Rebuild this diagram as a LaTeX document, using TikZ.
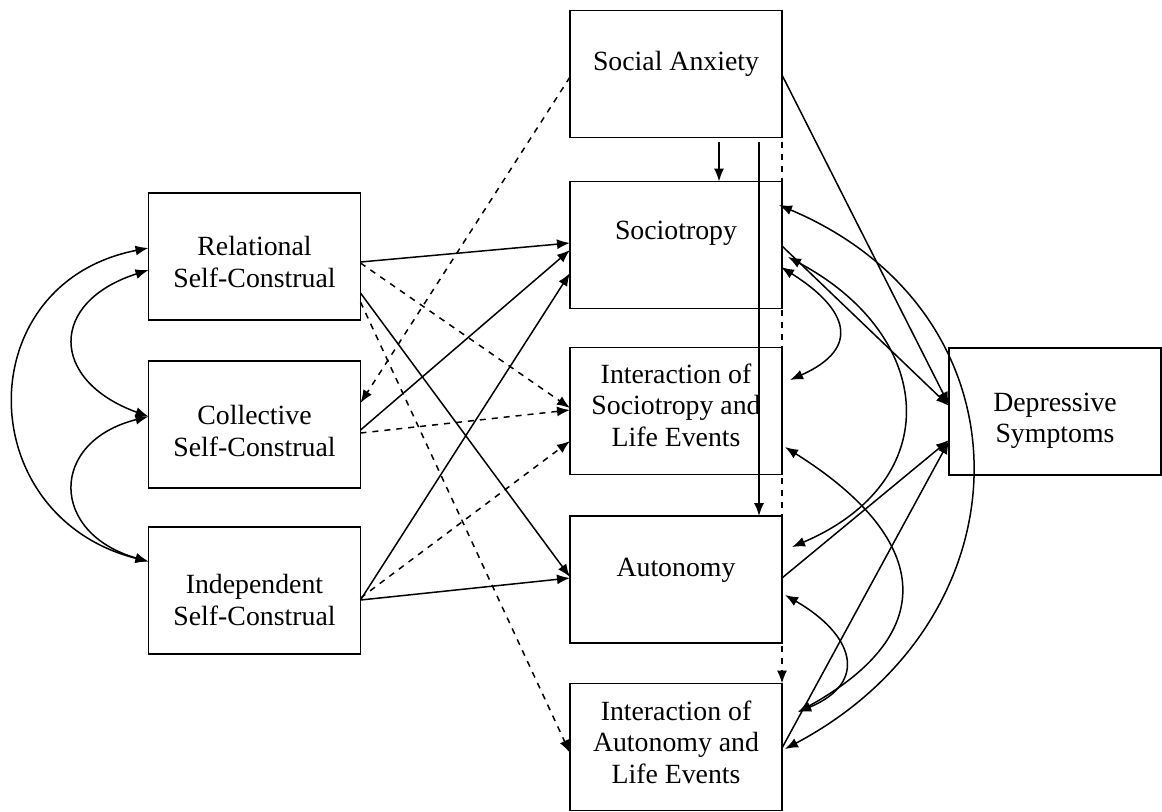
\documentclass[tikz,border=0pt]{standalone}
\usepackage{fontspec}
\setmainfont{Liberation Serif}
\usetikzlibrary{arrows.meta, calc}

\begin{document}
\begin{tikzpicture}[x=0.5pt, y=-0.5pt, font=\fontsize{13.9}{15.7}\selectfont,
  box/.style={draw, line width=0.9pt, minimum width=106pt, minimum height=63.5pt, inner sep=0pt, outer sep=0pt},
  lbl/.style={align=center, inner sep=0pt},
  effect/.style={line width=0.75pt, -{Latex[length=6.5pt,width=5pt]}},
  cov/.style={line width=0.75pt, {Latex[length=6.5pt,width=5pt]}-{Latex[length=6.5pt,width=5pt]}}]

\useasboundingbox (0,0) rectangle (1162,811);

\node[box, label={[lbl,yshift=5pt]center:Social Anxiety}] (sa) at (676,74) {};
\node[box, label={[lbl,yshift=6pt]center:Sociotropy}] (soc) at (676,245) {};
\node[box, label={[lbl,yshift=3pt]center:Interaction of\\Sociotropy and\\Life Events}] (ints) at (676,411) {};
\node[box, label={[lbl,yshift=4.75pt]center:Autonomy}] (aut) at (676,579.5) {};
\node[box, label={[lbl,yshift=2.5pt]center:Interaction of\\Autonomy and\\Life Events}] (inta) at (676,747) {};
\node[box, label={[lbl,yshift=-2.75pt]center:Relational\\Self-Construal}] (rel) at (254.5,256.5) {};
\node[box, label={[lbl,yshift=-3.25pt]center:Collective\\Self-Construal}] (col) at (254.5,424.5) {};
\node[box, label={[lbl,yshift=-4.75pt]center:Independent\\Self-Construal}] (ind) at (254.5,590.5) {};
\node[box, label={[lbl,yshift=-4.75pt]center:Depressive\\Symptoms}] (dep) at (1055,411.5) {};

\coordinate (cl) at ($(inta.east)+(16,-35)$);

% self-construals to the middle column
\draw[effect] ($(rel.east)+(0,5.5)$) -- ($(soc.west)+(0,-2)$);
\draw[effect,dashed] ($(rel.east)+(0,6.5)$) -- ($(ints.west)+(0,-3)$);
\draw[effect] ($(rel.east)+(0,36.5)$) -- ($(aut.west)+(0,-2.5)$);
\draw[effect,dashed] ($(rel.east)+(0,45.5)$) -- ($(inta.west)+(0,6)$);
\draw[effect] ($(col.east)+(0,5.5)$) -- ($(soc.west)+(0,5)$);
\draw[effect,dashed] ($(col.east)+(0,8.5)$) -- ($(ints.west)+(0,-1)$);
\draw[effect] ($(ind.east)+(0,9.5)$) -- ($(soc.west)+(0,28)$);
\draw[effect,dashed] ($(ind.east)+(0,7.5)$) -- ($(ints.west)+(0,30)$);
\draw[effect] ($(ind.east)+(0,9.5)$) -- ($(aut.west)+(0,-1.5)$);

% social anxiety
\draw[effect,dashed] ($(sa.west)+(0,3)$) -- ($(col.east)+(0,-21.5)$);
\draw[effect] ($(sa.south)+(43,4)$) -- ($(soc.north)+(43,0)$);
\draw[effect] ($(sa.south)+(83,4)$) -- ($(aut.north)+(83,0)$);
\draw[effect,dashed] ($(sa.south east)+(0,4)$) -- (inta.north east);
\draw[effect] ($(sa.east)+(0,1)$) -- ($(dep.west)+(0,-6.5)$);

% to depressive symptoms
\draw[effect] ($(soc.east)+(0,1)$) -- ($(dep.west)+(0,-5.5)$);
\draw[effect] ($(aut.east)+(0,-1.5)$) -- ($(dep.west)+(0,28.5)$);
\draw[effect] ($(inta.east)+(0,1)$) -- ($(dep.west)+(0,29.5)$);

% covariances, left
\draw[cov] ($(rel.west)+(0,13.5)$) .. controls +(-100,32) and +(-99,-36) .. ($(col.west)+(0,-8)$);
\draw[cov] ($(rel.west)+(0,-8.5)$) .. controls +(-180,35) and +(-178,-45) .. ($(ind.west)+(0,-29)$);
\draw[cov] ($(col.west)+(0,-8)$) .. controls +(-100,25) and +(-99,-28) .. ($(ind.west)+(0,-29)$);

% covariances, right
\draw[cov] ($(soc.east)+(-3,-40)$) .. controls +(258,109) and +(247,-131) .. ($(inta.east)+(3,2)$);
\draw[cov] ($(soc.east)+(-1,22)$) .. controls +(67,42) and +(72,-32) .. ($(ints.east)+(8,-31)$);
\draw[cov] ($(soc.east)+(6,12)$) .. controls +(148,79) and +(155,-66) .. ($(aut.east)+(10,-32.5)$);
\draw[cov] ($(ints.east)+(3,36)$) .. controls +(142,89) and +(147,-81) .. (cl);
\draw[cov] ($(aut.east)+(3,15.5)$) .. controls +(68,39) and +(72,-30) .. (cl);

\end{tikzpicture}
\end{document}
